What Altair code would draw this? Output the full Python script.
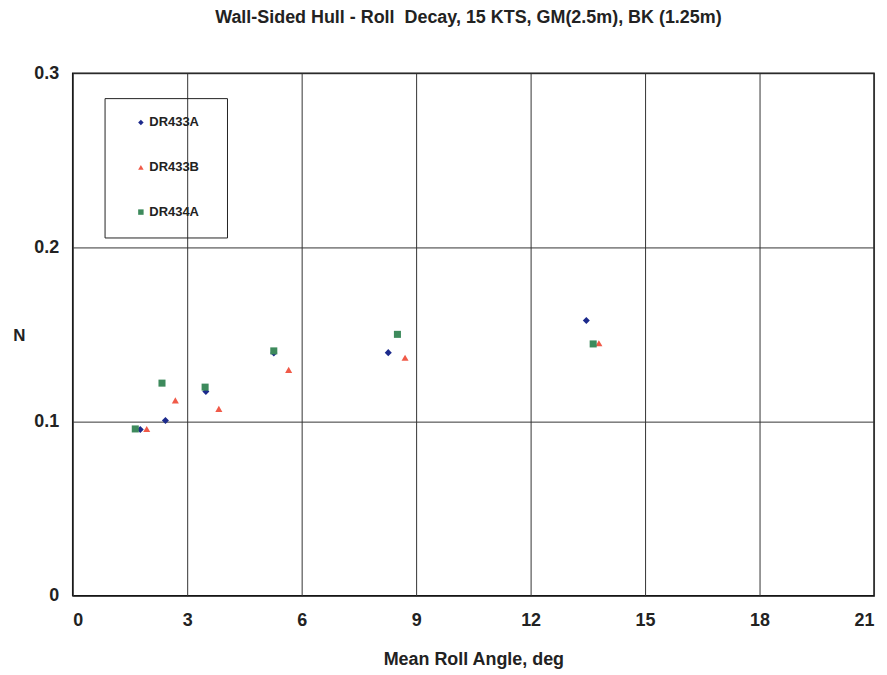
import altair as alt
import pandas as pd

series_names = ["DR433A", "DR433B", "DR434A"]

x_dr433a = [1.77, 2.43, 3.49, 5.27, 8.27, 13.46]
y_dr433a = [0.0955, 0.1006, 0.1173, 0.1394, 0.1396, 0.158]

x_dr433b = [1.94, 2.69, 3.83, 5.66, 8.71, 13.79]
y_dr433b = [0.0958, 0.1122, 0.1073, 0.1297, 0.1367, 0.145]

x_dr434a = [1.64, 2.34, 3.47, 5.27, 8.51, 13.64]
y_dr434a = [0.0958, 0.1221, 0.1198, 0.1406, 0.1501, 0.1446]

x_ticks = [0, 3, 6, 9, 12, 15, 18, 21]
y_ticks = [0, 0.1, 0.2, 0.3]

colors = ["#1c2a8c", "#f05a48", "#3d8a5c"]
shapes = ["diamond", "triangle-up", "square"]

rows = []
for name, xs, ys in zip(series_names,
                        [x_dr433a, x_dr433b, x_dr434a],
                        [y_dr433a, y_dr433b, y_dr434a]):
    for xv, yv in zip(xs, ys):
        rows.append({"series": name, "x": xv, "y": yv})
df = pd.DataFrame(rows)

FONT = "Liberation Sans"
TXT = "#222222"

chart = alt.Chart(df).mark_point(filled=True, size=50, opacity=1).encode(
    x=alt.X("x:Q",
            scale=alt.Scale(domain=[0, 21], nice=False),
            axis=alt.Axis(values=x_ticks, title="Mean Roll Angle, deg",
                          grid=True, gridColor="#333333", gridWidth=1,
                          ticks=False, domain=False, labelFontSize=18,
                          labelPadding=16, titleFontSize=18, titlePadding=21,
                          titleFontWeight="bold", labelFontWeight="bold",
                          labelColor=TXT, titleColor=TXT,
                          labelFont=FONT, titleFont=FONT, format="d")),
    y=alt.Y("y:Q",
            scale=alt.Scale(domain=[0, 0.3], nice=False),
            axis=alt.Axis(values=y_ticks, title="N", titleAngle=0,
                          titleX=-54, titleY=263, titleAlign="center",
                          titleBaseline="middle",
                          grid=True, gridColor="#333333", gridWidth=1,
                          ticks=False, domain=False, labelFontSize=18,
                          labelPadding=14, titleFontSize=17,
                          titleFontWeight="bold", labelFontWeight="bold",
                          labelColor=TXT, titleColor=TXT,
                          labelFont=FONT, titleFont=FONT, format="~g")),
    color=alt.Color("series:N",
                    scale=alt.Scale(domain=series_names, range=colors),
                    legend=alt.Legend(orient="none", legendX=32, legendY=25,
                                      title=None, strokeColor="#222",
                                      padding=18, rowPadding=31,
                                      symbolOffset=12, labelOffset=2,
                                      labelFontSize=13, labelFontWeight="bold",
                                      labelFont=FONT, labelColor=TXT,
                                      symbolSize=30, symbolStrokeWidth=0,
                                      labelExpr="datum.label + '\u2800'",
                                      labelLimit=200)),
    shape=alt.Shape("series:N",
                    scale=alt.Scale(domain=series_names, range=shapes),
                    legend=None),
).properties(
    width=805,
    height=525,
    title=alt.TitleParams("Wall-Sided Hull - Roll\u00a0\u00a0Decay, 15 KTS, GM(2.5m), BK (1.25m)",
                          fontSize=18, font=FONT, fontWeight="bold",
                          color=TXT, anchor="middle", dx=-5, offset=37),
    autosize=alt.AutoSizeParams(type="none"),
    padding={"left": 65, "top": 64, "right": 5, "bottom": 76},
).configure_view(
    stroke="#111", strokeWidth=1.5
)

chart.save("out.html", embed_options={"renderer": "svg", "actions": False})
